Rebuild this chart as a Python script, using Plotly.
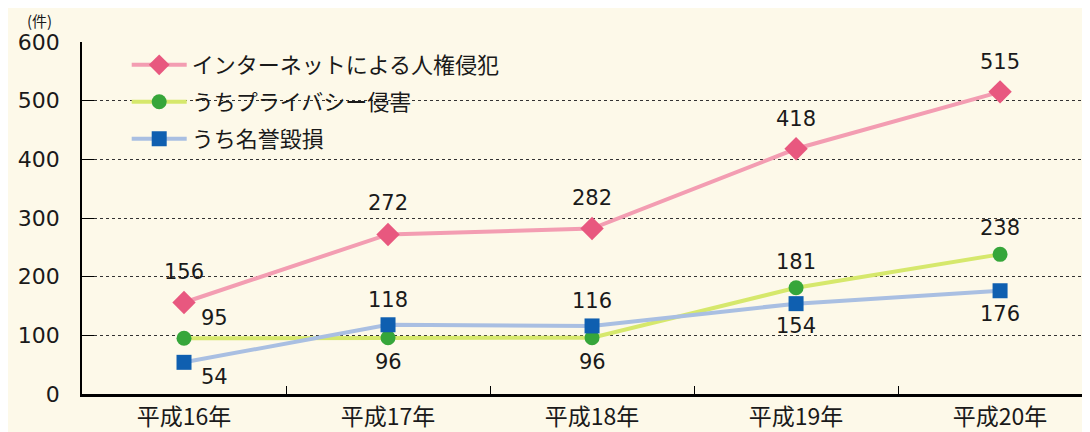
import plotly.graph_objects as go

categories = ["平成16年", "平成17年", "平成18年", "平成19年", "平成20年"]
internet = [156, 272, 282, 418, 515]
privacy = [95, 96, 96, 181, 238]
defamation = [54, 118, 116, 154, 176]
series_names = ["インターネットによる人権侵犯", "うちプライバシー侵害", "うち名誉毀損"]
y_ticks = [0, 100, 200, 300, 400, 500, 600]

FONT = "Noto Sans CJK JP"
NUMFONT = "DejaVu Sans"
BG = "#fdf9e9"

line_colors = ["#f39db2", "#d6e86c", "#a9bfe2"]
marker_colors = ["#e8587f", "#36a63a", "#0f5fb0"]
symbols = ["diamond", "circle", "square"]
msizes = [18, 15, 15]

fig = go.Figure()
all_series = [internet, privacy, defamation]
legends = ["legend", "legend2", "legend3"]
for i, vals in enumerate(all_series):
    fig.add_trace(go.Scatter(
        x=categories, y=vals, name=series_names[i], mode="lines+markers",
        line=dict(color=line_colors[i], width=4),
        marker=dict(symbol=symbols[i], size=msizes[i], color=marker_colors[i]),
        legend=legends[i], cliponaxis=False,
    ))

# label offsets (px): xshift, yshift per series/point
offsets = [
    [(0, 30), (0, 31), (0, 31), (0, 30), (0, 30)],
    [(30, 20), (0, -24), (0, -24), (0, 26), (0, 26)],
    [(30, -15), (0, 25), (0, 25), (0, -22), (0, -23)],
]
for i, vals in enumerate(all_series):
    for j, v in enumerate(vals):
        xs, ys = offsets[i][j]
        fig.add_annotation(x=categories[j], y=v, text=str(v), showarrow=False,
                           xshift=xs, yshift=ys,
                           font=dict(family=NUMFONT, size=21, color="#1a1a1a"))

fig.add_annotation(xref="paper", yref="paper", x=-0.042, y=1.0, yshift=22,
                   text="(件)", showarrow=False, xanchor="center", yanchor="middle",
                   font=dict(family=FONT, size=15, color="#1a1a1a"))

leg_common = dict(xref="paper", yref="paper", xanchor="left", yanchor="middle",
                  bgcolor="rgba(0,0,0,0)", itemwidth=55,
                  font=dict(family=FONT, size=22, color="#1a1a1a"))
ys_leg = [65, 102, 139]
plot_top, plot_h = 42, 352
for k, name in enumerate(legends):
    yp = 1 - (ys_leg[k] - plot_top) / plot_h
    fig.update_layout({name: dict(x=0.044, y=yp, **leg_common)})

# page body has an 8px margin, so margins are reduced by 8px to compensate
fig.update_layout(
    width=1090, height=432,
    margin=dict(l=74, r=0, t=34, b=46, autoexpand=False),
    paper_bgcolor=BG, plot_bgcolor=BG,
    showlegend=True,
    xaxis=dict(range=[-0.5, 4.48], showgrid=False, showline=True, automargin=False,
               linecolor="#000", linewidth=3, ticks="inside", ticklen=8,
               tickson="boundaries", tickcolor="#000", ticklabelstandoff=0,
               tickfont=dict(family=FONT, size=23, color="#1a1a1a")),
    yaxis=dict(range=[0, 600], tickvals=y_ticks, showgrid=True, automargin=False,
               gridcolor="#333", griddash="dot", gridwidth=1,
               showline=True, linecolor="#000", linewidth=1.5,
               ticks="inside", ticklen=12, tickcolor="#000",
               ticklabelstandoff=16, zeroline=False,
               tickfont=dict(family=NUMFONT, size=22, color="#1a1a1a")),
)

fig.write_html("out.html")
